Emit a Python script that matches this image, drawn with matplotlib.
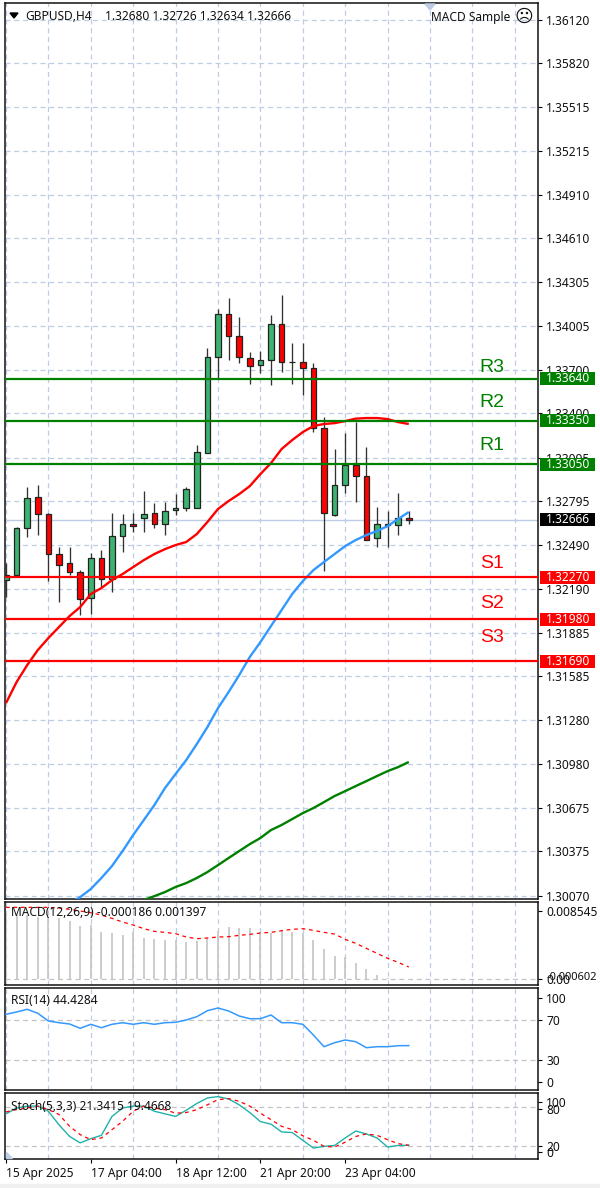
import numpy as np
import matplotlib
matplotlib.use("Agg")
import matplotlib.pyplot as plt
from matplotlib.patches import Rectangle, Polygon

plt.rcParams['font.family'] = ['Noto Sans', 'DejaVu Sans']

opens = [1.32249,1.32285,1.32610,1.32820,1.32703,1.32427,1.32365,1.32307,1.32127,1.32399,1.32256,1.32555,1.32638,
         1.32675,1.32710,1.32638,1.32731,1.32749,1.32749,1.33124,1.33791,1.34084,1.33936,1.33780,1.33734,1.33771,
         1.34019,1.33753,1.33755,1.33715,1.33297,1.32698,1.32903,1.33041,1.32967,1.32537,1.32632,1.32627,1.32680]
highs = [1.32367,1.32615,1.32889,1.32905,1.32710,1.32475,1.32475,1.32318,1.32438,1.32456,1.32714,1.32703,1.32714,
         1.32866,1.32779,1.32786,1.32841,1.32894,1.33179,1.33849,1.34121,1.34194,1.34067,1.33822,1.33831,1.34077,
         1.34215,1.33884,1.33884,1.33746,1.33373,1.33152,1.33262,1.33342,1.33170,1.32751,1.32724,1.32852,1.32726]
lows = [1.32132,1.32285,1.32544,1.32560,1.32242,1.32095,1.32284,1.32008,1.32013,1.32199,1.32169,1.32445,1.32579,
        1.32579,1.32606,1.32560,1.32698,1.32726,1.32749,1.33124,1.33646,1.33768,1.33750,1.33605,1.33677,1.33594,
        1.33686,1.33605,1.33527,1.33273,1.32314,1.32691,1.32852,1.32790,1.32528,1.32479,1.32479,1.32560,1.32634]
closes = [1.32284,1.32610,1.32813,1.32703,1.32427,1.32353,1.32307,1.32116,1.32399,1.32256,1.32555,1.32638,1.32620,
          1.32703,1.32638,1.32728,1.32749,1.32876,1.33131,1.33791,1.34084,1.33936,1.33789,1.33725,1.33771,1.34019,
          1.33753,1.33756,1.33715,1.33297,1.32710,1.32903,1.33041,1.32965,1.32528,1.32638,1.32636,1.32675,1.32666]

red_ma = [1.31400,1.31545,1.31662,1.31766,1.31849,1.31925,1.32001,1.32063,1.32153,1.32194,1.32249,1.32291,1.32339,
          1.32387,1.32429,1.32463,1.32491,1.32512,1.32567,1.32650,1.32740,1.32795,1.32843,1.32898,1.32981,1.33057,
          1.33154,1.33216,1.33271,1.33313,1.33327,1.33333,1.33347,1.33364,1.33368,1.33368,1.33361,1.33340,1.33327]
blue_ma = [np.nan]*6 + [1.30019,1.30060,1.30116,1.30192,1.30275,1.30378,1.30489,1.30592,1.30696,1.30813,1.30910,
           1.31006,1.31117,1.31234,1.31365,1.31476,1.31593,1.31718,1.31821,1.31932,1.32042,1.32153,1.32242,1.32318,
           1.32374,1.32429,1.32484,1.32526,1.32560,1.32588,1.32622,1.32671,1.32719]
green_ma = [np.nan]*13 + [1.30040,1.30067,1.30095,1.30130,1.30157,1.30192,1.30233,1.30281,1.30330,1.30378,1.30426,
            1.30468,1.30523,1.30558,1.30599,1.30640,1.30675,1.30716,1.30758,1.30792,1.30827,1.30861,1.30896,1.30930,
            1.30958,1.30993]

resistance = [1.33640, 1.33350, 1.33050]
support = [1.32270, 1.31980, 1.31690]
res_names = ['R3', 'R2', 'R1']
sup_names = ['S1', 'S2', 'S3']
last_price = 1.32666
price_ticks = [1.36120,1.35820,1.35515,1.35215,1.34910,1.34610,1.34305,1.34005,1.33700,1.33400,1.33095,
               1.32795,1.32490,1.32190,1.31885,1.31585,1.31280,1.30980,1.30675,1.30375,1.30070]

macd_hist = [.008215,.008006,.008006,.007798,.007798,.007589,.007298,.006630,.006755,.005838,.005713,.005504,.005921,
             .005171,.005004,.004879,.004879,.004670,.004796,.005087,.006005,.006464,.006338,.006338,.005921,.005713,
             .006047,.005921,.005796,.004879,.003711,.002877,.002794,.002043,.001209,.000500,.000167,.000040,-.000186]
macd_signal = [.008966,.008966,.008966,.008966,.008966,.008882,.008715,.008507,.008298,.008006,.007589,.007131,.006755,
               .006297,.005963,.005838,.005671,.005254,.005046,.005129,.005254,.005296,.005463,.005588,.005755,.005838,
               .006047,.006213,.006297,.006088,.005838,.005630,.004962,.004462,.003836,.003211,.002585,.002085,.001500]
rsi = [75.7,78,80.7,76.7,69,67.3,66,61.7,65.7,62.3,65.7,67.3,65.7,67.3,65.7,67.3,67.7,70,73.3,79.3,82,79,74,71.3,71.3,
       75,67.3,67.3,65.7,55,43.3,47.3,50,48.3,42.3,43.3,43.3,44.3,44.4]
stoch_main = [70,79,82,82,74,53,35,25,31.5,36.7,66,79,82,82,74,70,66,75.5,86,94.6,96.7,93,84,72,58,54,42,41,29,17,19.6,
              21,32.6,43.4,38.8,32.6,18.6,21,21.3]
stoch_signal = [73,76.5,79,82,76.5,69,50.7,37.7,30,32.6,45.5,58.4,74,82,79,76.5,71,72,76.5,84,92,93.6,89.4,82,71,61,50.7,
                45.5,36,29,19.6,18.6,26,35,38.8,36.7,30,23.8,21.3]

date_positions = [0, 8, 16, 24, 32]
date_labels = ['15 Apr 2025', '17 Apr 04:00', '18 Apr 12:00', '21 Apr 20:00', '23 Apr 04:00']

W, H = 600, 1188
GRID = '#BCCDE4'
LEVEL = '#C4C4C4'
TXT = '#111111'
FS = 8.6

fig = plt.figure(figsize=(W / 100, H / 100), dpi=100, facecolor='white')


def panel(top, bottom, left=5, right=538):
    ax = fig.add_axes([left / W, 1 - bottom / H, (right - left) / W, (bottom - top) / H])
    ax.set_xlim(-0.094, 50.19)
    ax.set_xticks(np.arange(0, 51, 4), minor=True)
    ax.set_xticks([])
    ax.grid(True, axis='x', which='minor', color=GRID, lw=0.9, ls=(0, (4, 3)), zorder=0)
    ax.tick_params(axis='x', which='minor', length=0)
    ax.yaxis.tick_right()
    ax.tick_params(axis='y', length=3, width=0.8, pad=3, labelsize=FS, labelcolor=TXT, color='black')
    ax.set_axisbelow(True)
    for s in ax.spines.values():
        s.set_linewidth(1.1)
        s.set_color('#111111')
    return ax


def ftext(x, y, s, **kw):
    kw.setdefault('fontsize', FS)
    kw.setdefault('color', TXT)
    kw.setdefault('va', 'center')
    fig.text(x / W, 1 - y / H, s, **kw)


# Main price panel
ax = panel(3, 899)
ax.set_ylim(1.30047, 1.36234)
ax.set_yticks(price_ticks)
ax.set_yticklabels([f'{t:.5f}' for t in price_ticks])
ax.grid(True, axis='y', color=GRID, lw=0.9, ls=(0, (4, 3)), zorder=0)
ax.axhline(last_price, color=GRID, lw=1.0, zorder=1)

xs = np.arange(len(opens))
o, h, l, c = map(np.array, (opens, highs, lows, closes))
ax.vlines(xs, l, h, color='#333333', lw=0.95, zorder=2)
up = c >= o
bot = np.minimum(o, c)
span = np.maximum(np.abs(c - o), 0.00002)
ax.bar(xs, span, bottom=bot, width=0.52, color=np.where(up, '#3CB371', '#FF0000'),
       edgecolor='#222222', linewidth=0.9, zorder=3)

ax.plot(xs, red_ma, color='#FF0000', lw=1.7, zorder=4, solid_capstyle='butt')
ax.plot(xs, blue_ma, color='#3399FF', lw=1.7, zorder=4, solid_capstyle='butt')
ax.plot(xs, green_ma, color='#008000', lw=1.7, zorder=4, solid_capstyle='butt')

box_tf = ax.get_yaxis_transform()
box_x0, box_w = 1.0045, 55 / 533
box_h = 13 * 6.905e-5


def price_box(level, face, z=10):
    ax.add_patch(Rectangle((box_x0, level - box_h / 2), box_w, box_h, transform=box_tf, facecolor=face,
                           edgecolor='none', clip_on=False, zorder=z))
    ax.text(box_x0 + box_w / 2, level, f'{level:.5f}', transform=box_tf, color='white', fontsize=FS,
            ha='center', va='center', clip_on=False, zorder=z + 1)


for lev in resistance:
    ax.axhline(lev, color='#008000', lw=1.6, zorder=5)
    price_box(lev, '#008000')
for lev in support:
    ax.axhline(lev, color='#FF0000', lw=1.6, zorder=5)
    price_box(lev, '#FF0000')
price_box(last_price, '#000000')

for name, yy in zip(res_names, [368, 402, 445]):
    ftext(492, yy, name, color='#008000', fontsize=14, ha='center', family='Liberation Sans', zorder=6)
for name, yy in zip(sup_names, [564, 603, 637]):
    ftext(492, yy, name, color='#FF0000', fontsize=14, ha='center', family='Liberation Sans', zorder=6)

# Header
fig.add_artist(Polygon([(10 / W, 1 - 13 / H), (18 / W, 1 - 13 / H), (14 / W, 1 - 18 / H)], closed=True,
                       transform=fig.transFigure, color='black'))
ftext(25, 16, 'GBPUSD,H4', ha='left')
ftext(105, 16, '1.32680 1.32726 1.32634 1.32666', ha='left')
ftext(431, 17, 'MACD Sample', ha='left')
ftext(524, 17, '\u2639', ha='center', fontsize=13, family='DejaVu Sans')
fig.add_artist(Polygon([(425 / W, 1 - 4 / H), (435 / W, 1 - 4 / H), (430 / W, 1 - 10 / H)], closed=True,
                       transform=fig.transFigure, color=GRID))

# MACD
ax_m = panel(902, 985)
ax_m.set_ylim(-0.00075, 0.009636)
ax_m.set_yticks([0.008545, 0.0])
ax_m.set_yticklabels(['0.008545', '0.00'])
ax_m.axhline(0, color=LEVEL, lw=0.9, ls=(0, (4, 3)), zorder=1)
ax_m.vlines(xs, 0, macd_hist, color='#C8C8C8', lw=1.3, zorder=2)
ax_m.plot(xs, macd_signal, color='#FF0000', lw=0.9, ls=(0, (3, 3)), zorder=3)
ftext(547, 977, '-0.000602', ha='left', fontsize=8.0)
ftext(11, 913, 'MACD(12,26,9) -0.000186 0.001397', ha='left', zorder=6)

# RSI
ax_r = panel(988, 1090)
ax_r.set_ylim(0, 102)
ax_r.set_yticks([92.3, 70, 30, 8.3])
ax_r.set_yticklabels(['100', '70', '30', '0'])
for lv in (70, 30):
    ax_r.axhline(lv, color=LEVEL, lw=0.9, ls=(0, (4, 3)), zorder=1)
ax_r.plot(xs, rsi, color='#3399FF', lw=1.1, zorder=3)
ftext(11, 1001, 'RSI(14) 44.4284', ha='left', zorder=6)

# Stochastic
ax_s = panel(1093, 1159)
ax_s.set_ylim(0, 102.3)
ax_s.set_yticks([88, 78, 20, 11])
ax_s.set_yticklabels(['100', '80', '20', '0'])
for lv in (80, 20):
    ax_s.axhline(lv, color=LEVEL, lw=0.9, ls=(0, (4, 3)), zorder=1)
ax_s.plot(xs, stoch_main, color='#20B2AA', lw=1.0, zorder=3)
ax_s.plot(xs, stoch_signal, color='#FF0000', lw=0.9, ls=(0, (3, 3)), zorder=3)
ax_s.set_xticks(date_positions)
ax_s.set_xticklabels(date_labels, ha='left', fontsize=FS, color=TXT)
ax_s.tick_params(axis='x', which='major', length=3, width=0.8, pad=3)
ftext(11, 1106, 'Stoch(5,3,3) 21.3415 19.4668', ha='left', zorder=6)
fig.add_artist(Polygon([(6 / W, 1 - 1152 / H), (6 / W, 1 - 1158 / H), (12 / W, 1 - 1158 / H)], closed=True,
                       transform=fig.transFigure, color=GRID))

# Window edge
fig.add_artist(Rectangle((0, 0), 1, 4 / H, transform=fig.transFigure, color='#F0F0F0', zorder=0))

fig.savefig('out.png', dpi=100, facecolor='white')
